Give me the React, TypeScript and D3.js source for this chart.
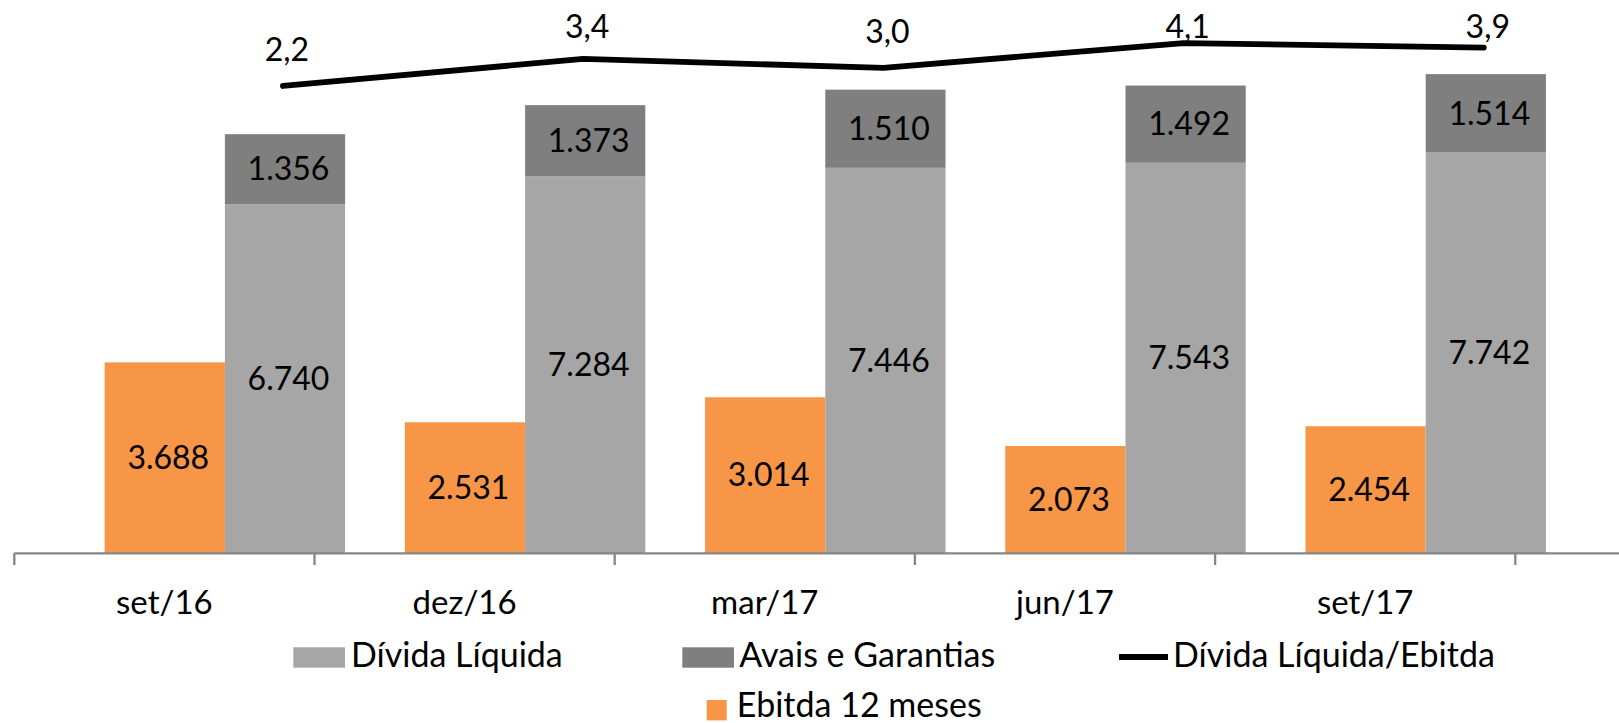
import React from "react";
import * as d3 from "d3";

const categories = ["set/16", "dez/16", "mar/17", "jun/17", "set/17"];
const ebitda12m = [3688, 2531, 3014, 2073, 2454];
const dividaLiquida = [6740, 7284, 7446, 7543, 7742];
const avaisGarantias = [1356, 1373, 1510, 1492, 1514];
const dividaEbitda = [2.2, 3.4, 3.0, 4.1, 3.9];

const W = 1619;
const H = 723;
const FONT = "Lato, 'Open Sans', sans-serif";
const COL_EBITDA = "#F79646";
const COL_DIVIDA = "#A6A6A6";
const COL_AVAIS = "#7F7F7F";

const locale = d3.formatLocale({ decimal: ",", thousands: ".", grouping: [3], currency: ["R$", ""] });
const fmtInt = locale.format(",d");
const fmtDec = locale.format(".1f");

export default function App() {
  const baseY = 553.3;
  const x = d3.scaleBand<string>().domain(categories).range([14.3, 1515.3]).padding(0);
  const bw = x.bandwidth();
  // inner positions of the bars within each band (Excel-like offset)
  const inner = d3.scaleBand<string>().domain(["ebitda", "divida"]).range([bw * 0.301, bw * 1.102]);
  const y = d3.scaleLinear().domain([0, 10000]).range([baseY, baseY - 517.7]);
  const yLine = d3.scaleLinear().domain([0, 4.5]).range([135.7, 34]);
  const linePtX = (i: number) => (x(categories[i]) as number) + bw * 0.895;

  const lineGen = d3
    .line<number>()
    .x((_, i) => linePtX(i))
    .y((d) => yLine(d));

  const labelFs = 32;
  const legendFs = 34;
  const dx = 3.5;

  return (
    <svg width={W} height={H} style={{ position: "absolute", left: 0, top: 0, background: "#fff" }} fontFamily={FONT}>
      <rect x={0} y={0} width={W} height={H} fill="#fff" />
      {categories.map((c, i) => {
        const x0 = x(c) as number;
        const xe = x0 + (inner("ebitda") as number);
        const xd = x0 + (inner("divida") as number);
        const iw = inner.bandwidth();
        const yE = y(ebitda12m[i]);
        const yD = y(dividaLiquida[i]);
        const yA = y(dividaLiquida[i] + avaisGarantias[i]);
        return (
          <g key={c}>
            <rect x={xe} y={yE} width={iw} height={baseY - yE} fill={COL_EBITDA} />
            <rect x={xd} y={yD} width={iw} height={baseY - yD} fill={COL_DIVIDA} />
            <rect x={xd} y={yA} width={iw} height={yD - yA} fill={COL_AVAIS} />
            <text x={xe + iw / 2 + dx} y={(yE + baseY) / 2} dy="0.35em" textAnchor="middle" fontSize={labelFs} fill="#000">
              {fmtInt(ebitda12m[i])}
            </text>
            <text x={xd + iw / 2 + dx} y={(yD + baseY) / 2} dy="0.35em" textAnchor="middle" fontSize={labelFs} fill="#000">
              {fmtInt(dividaLiquida[i])}
            </text>
            <text x={xd + iw / 2 + dx} y={(yA + yD) / 2} dy="0.35em" textAnchor="middle" fontSize={labelFs} fill="#000">
              {fmtInt(avaisGarantias[i])}
            </text>
          </g>
        );
      })}

      {/* axis */}
      <line x1={14.3} x2={W} y1={baseY} y2={baseY} stroke="#868686" strokeWidth={2.3} />
      {d3.range(categories.length + 1).map((i) => {
        const tx = 14.3 + i * bw;
        return <line key={i} x1={tx} x2={tx} y1={baseY} y2={565} stroke="#868686" strokeWidth={2.3} />;
      })}
      {categories.map((c) => (
        <text key={c} x={(x(c) as number) + bw / 2} y={614} textAnchor="middle" fontSize={33} fill="#000">
          {c}
        </text>
      ))}

      {/* line */}
      <path d={lineGen(dividaEbitda) || ""} fill="none" stroke="#000" strokeWidth={5.8} strokeLinecap="round" strokeLinejoin="round" />
      {dividaEbitda.map((v, i) => (
        <text key={i} x={linePtX(i) + 4} y={Math.max(yLine(v) - 25, 38)} textAnchor="middle" fontSize={labelFs} fill="#000">
          {fmtDec(v)}
        </text>
      ))}

      {/* legend */}
      <rect x={293.3} y={647.3} width={51.7} height={20.4} fill={COL_DIVIDA} />
      <text x={351} y={667} fontSize={legendFs} fill="#000">Dívida Líquida</text>
      <rect x={682.3} y={647.3} width={51.7} height={20.4} fill={COL_AVAIS} />
      <text x={739.3} y={667} fontSize={legendFs} fill="#000">Avais e Garantias</text>
      <line x1={1119} x2={1168} y1={657} y2={657} stroke="#000" strokeWidth={5.8} />
      <text x={1173} y={667} fontSize={legendFs} fill="#000">Dívida Líquida/Ebitda</text>
      <rect x={706.7} y={700} width={20} height={20.4} fill={COL_EBITDA} />
      <text x={736.7} y={717} fontSize={legendFs} fill="#000">Ebitda 12 meses</text>
    </svg>
  );
}
